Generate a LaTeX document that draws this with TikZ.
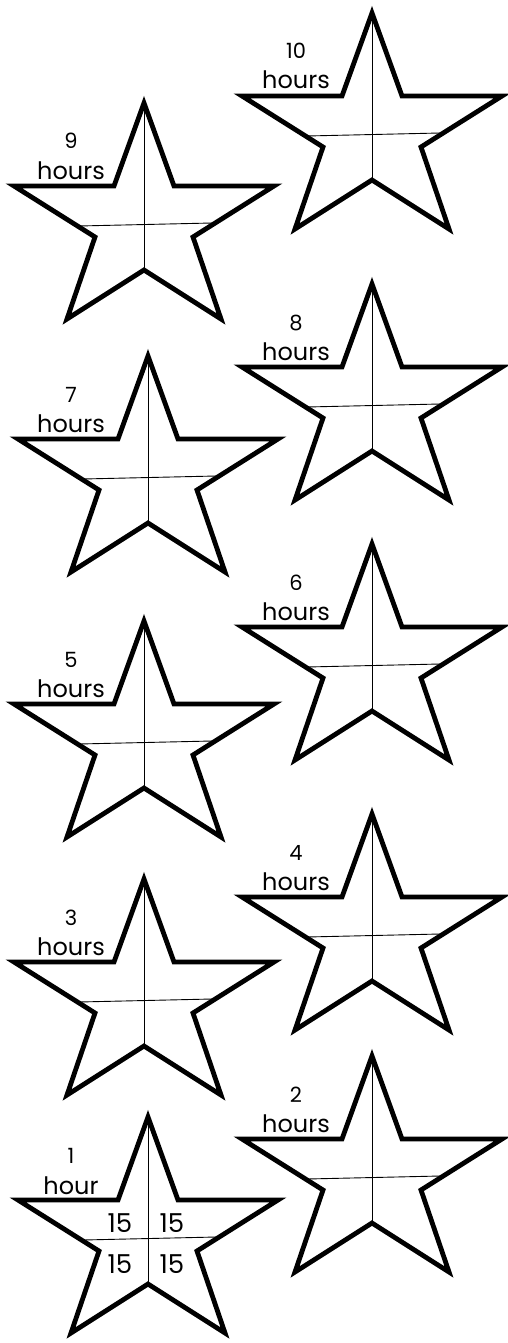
\documentclass[tikz,border=0pt]{standalone}
\usepackage{fontspec}
\setmainfont{Poppins}
\newcommand\onestar[2]{%
  \begin{scope}[shift={(#1,#2)}]
    \draw[starline] (0,0) -- (30,83) -- (130,83) -- (49,134) -- (77,216) -- (0,167)
      -- (-77,216) -- (-49,134) -- (-130,83) -- (-30,83) -- cycle;
    \draw[thinline] (0,0) -- (0,167);
    \draw[thinline] (-65,123) -- (68,120);
  \end{scope}}
\begin{document}
\begin{tikzpicture}[x=1pt,y=-1pt,
  starline/.style={line width=4.8pt, line join=miter, miter limit=10},
  thinline/.style={line width=0.9pt},
  numlbl/.style={font=\fontsize{21}{21}\selectfont, anchor=base, inner sep=0pt},
  hourlbl/.style={font=\fontsize{24}{24}\selectfont, anchor=base, inner sep=0pt},
  quarter/.style={font=\fontsize{26}{26}\selectfont, anchor=base, inner sep=0pt}]
\useasboundingbox[fill=white] (0,0) rectangle (508,1343);
% stars (apex positions)
\onestar{372}{13}
\onestar{144}{103}
\onestar{372}{284}
\onestar{148}{356}
\onestar{372}{544}
\onestar{144}{621}
\onestar{372}{814}
\onestar{144}{879}
\onestar{372}{1056}
\onestar{148}{1117}
% labels
\node[numlbl] (n10) at (296,59) {10};
\node[hourlbl] (h10) at (296,89) {hours};
\node[numlbl] (n9) at (71,149) {9};
\node[hourlbl] (h9) at (71,179) {hours};
\node[numlbl] (n8) at (296,330) {8};
\node[hourlbl] (h8) at (296,360) {hours};
\node[numlbl] (n7) at (71,402) {7};
\node[hourlbl] (h7) at (71,432) {hours};
\node[numlbl] (n6) at (296,590) {6};
\node[hourlbl] (h6) at (296,620) {hours};
\node[numlbl] (n5) at (71,667) {5};
\node[hourlbl] (h5) at (71,697) {hours};
\node[numlbl] (n4) at (296,860) {4};
\node[hourlbl] (h4) at (296,890) {hours};
\node[numlbl] (n3) at (71,925) {3};
\node[hourlbl] (h3) at (71,955) {hours};
\node[numlbl] (n2) at (296,1102) {2};
\node[hourlbl] (h2) at (296,1132) {hours};
\node[numlbl] (n1) at (71,1163) {1};
\node[hourlbl] (h1) at (71,1194) {hour};
% quarters
\node[quarter] (q1) at (120,1232) {15};
\node[quarter] (q2) at (172,1232) {15};
\node[quarter] (q3) at (120,1273) {15};
\node[quarter] (q4) at (172,1273) {15};
\end{tikzpicture}
\end{document}
